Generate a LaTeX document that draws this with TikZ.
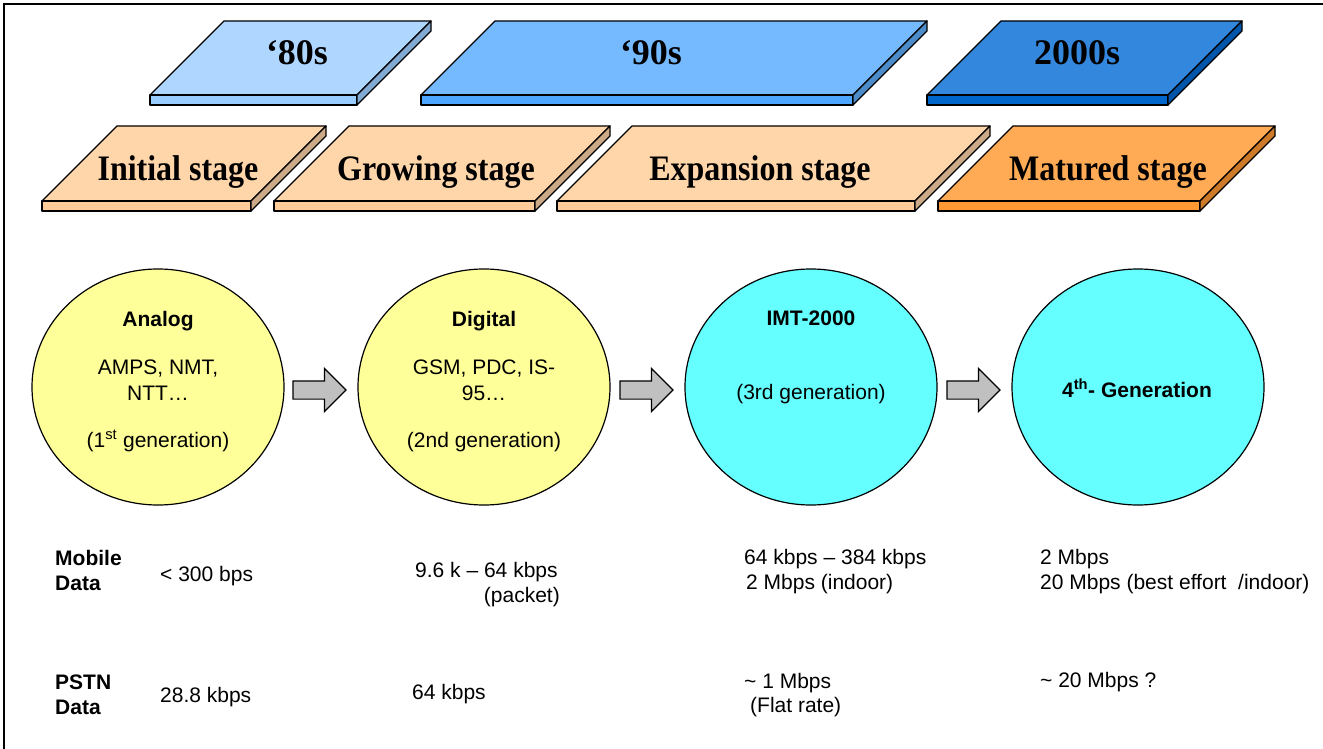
\documentclass[tikz,border=0pt]{standalone}
\usepackage{fontspec}
\usepackage{graphicx}
\setmainfont{Liberation Sans}
\newfontfamily\tnr{Liberation Serif}
\usetikzlibrary{shapes.geometric,shapes.arrows}

\definecolor{yAtop}{HTML}{AED6FF}
\definecolor{yAfront}{HTML}{99CCFF}
\definecolor{yAside}{HTML}{82AAD2}
\definecolor{yBtop}{HTML}{75BAFF}
\definecolor{yBfront}{HTML}{4DA6FF}
\definecolor{yBside}{HTML}{4C8CC8}
\definecolor{yCtop}{HTML}{3388DD}
\definecolor{yCfront}{HTML}{0066CC}
\definecolor{yCside}{HTML}{0055AA}
\definecolor{sAtop}{HTML}{FFD6AA}
\definecolor{sAfront}{HTML}{FFCC99}
\definecolor{sAside}{HTML}{CCAA88}
\definecolor{sBtop}{HTML}{FFAA55}
\definecolor{sBfront}{HTML}{FF9933}
\definecolor{sBside}{HTML}{CC7A29}
\definecolor{cyel}{HTML}{FFFF99}
\definecolor{ccyan}{HTML}{66FFFF}
\definecolor{agray}{HTML}{C0C0C0}

% #1 bottom-left x, #2 width, #3 top y, #4 bottom y, #5 thickness, #6 top, #7 front, #8 side
\newcommand{\mslab}[8]{%
  \pgfmathsetmacro{\msl}{#4-#3}%
  \pgfmathsetmacro{\mxr}{#1+#2}%
  \pgfmathsetmacro{\mxtl}{#1+\msl}%
  \pgfmathsetmacro{\mxtr}{#1+#2+\msl}%
  \pgfmathsetmacro{\myb}{#4+#5}%
  \pgfmathsetmacro{\myt}{#3+#5}%
  \filldraw[slabline,fill=#6] (#1,#4) -- (\mxr,#4) -- (\mxtr,#3) -- (\mxtl,#3) -- cycle;
  \filldraw[slabline,fill=#7] (#1,#4) rectangle (\mxr,\myb);
  \filldraw[slabline,fill=#8] (\mxr,#4) -- (\mxtr,#3) -- (\mxtr,\myt) -- (\mxr,\myb) -- cycle;
}
\newcommand{\stagelabel}[1]{\scalebox{1}[1.12]{#1}}

\tikzset{
  slabline/.style={draw=black,line width=1.3pt,line join=round},
  yeartxt/.style={anchor=base,inner sep=0pt,font={\tnr\bfseries\fontsize{36}{40}\selectfont}},
  stagetxt/.style={anchor=base,inner sep=0pt,font={\tnr\bfseries\fontsize{32}{36}\selectfont}},
  gencircle/.style={ellipse,draw=black,line width=1.2pt,minimum width=252pt,minimum height=236pt,inner sep=0pt},
  ctxt/.style={anchor=base,inner sep=0pt,font={\fontsize{21}{25}\selectfont}},
  cbold/.style={ctxt,font={\bfseries\fontsize{21}{25}\selectfont}},
  ltxt/.style={anchor=base west,inner sep=0pt,font={\fontsize{21}{25}\selectfont}},
  lbold/.style={ltxt,font={\bfseries\fontsize{21}{25}\selectfont}},
  blockarrow/.style={single arrow,draw=black,line width=1.2pt,fill=agray,
    minimum height=53pt,inner xsep=0pt,inner ysep=8.5pt,text height=0pt,text depth=0pt,
    single arrow head extend=12.5pt,single arrow head indent=0pt},
}

\begin{document}
\begin{tikzpicture}[x=1pt,y=-1pt]
\useasboundingbox (0,0) rectangle (1323,749);
\fill[white] (0,0) rectangle (1323,749);
\draw[line width=2pt] (4,749) -- (4,4) -- (1323,4);

% year slabs
\mslab{150}{207}{21}{95}{10}{yAtop}{yAfront}{yAside}
\mslab{421}{432}{21}{95}{10}{yBtop}{yBfront}{yBside}
\mslab{927}{241}{21}{95}{10}{yCtop}{yCfront}{yCside}
\node[yeartxt] (y80) at (297,65) {‘80s};
\node[yeartxt] (y90) at (651,65) {‘90s};
\node[yeartxt] (y00) at (1077,65) {2000s};

% stage slabs
\mslab{42}{209}{126}{201}{10}{sAtop}{sAfront}{sAside}
\mslab{274}{261}{126}{201}{10}{sAtop}{sAfront}{sAside}
\mslab{557}{358}{126}{201}{10}{sAtop}{sAfront}{sAside}
\mslab{938}{262}{126}{201}{10}{sBtop}{sBfront}{sBside}
\node[stagetxt] (s1) at (178,181) {\stagelabel{Initial stage}};
\node[stagetxt] (s2) at (436,181) {\stagelabel{Growing stage}};
\node[stagetxt] (s3) at (760,181) {\stagelabel{Expansion stage}};
\node[stagetxt] (s4) at (1108,181) {\stagelabel{Matured stage}};

% generation circles
\node[gencircle,fill=cyel] (g1) at (158,387) {};
\node[gencircle,fill=cyel] (g2) at (484,387) {};
\node[gencircle,fill=ccyan] (g3) at (811,387) {};
\node[gencircle,fill=ccyan] (g4) at (1138,387) {};

\node[cbold] (g1a) at (158,326) {Analog};
\node[ctxt] (g1b) at (158,374) {AMPS, NMT,};
\node[ctxt] (g1c) at (158,400) {NTT…};
\node[ctxt] (g1d) at (158,447) {(1\textsuperscript{st} generation)};

\node[cbold] (g2a) at (484,326) {Digital};
\node[ctxt] (g2b) at (484,374) {GSM, PDC, IS-};
\node[ctxt] (g2c) at (484,400) {95…};
\node[ctxt] (g2d) at (484,447) {(2nd generation)};

\node[cbold] (g3a) at (811,325) {IMT-2000};
\node[ctxt] (g3b) at (811,399) {(3rd generation)};

\node[cbold] (g4a) at (1137,397) {4\textsuperscript{th}- Generation};

% arrows
\node[blockarrow] (a1) at (315,390) {};
\node[blockarrow] (a2) at (642,390) {};
\node[blockarrow] (a3) at (969,390) {};

% data rows
\node[lbold] (m1) at (55,565) {Mobile};
\node[lbold] (m2) at (55,590) {Data};
\node[ltxt] (m3) at (160,581) {< 300 bps};
\node[ltxt] (m4) at (415,577) {9.6 k – 64 kbps};
\node[ltxt,anchor=base east] (m5) at (560,602) {(packet)};
\node[ltxt] (m6) at (744,564) {64 kbps – 384 kbps};
\node[ltxt] (m7) at (746,589) {2 Mbps (indoor)};
\node[ltxt] (m8) at (1040,564) {2 Mbps};
\node[ltxt] (m9) at (1040,589) {20 Mbps (best effort\ \ /indoor)};

\node[lbold] (p1) at (55,689) {PSTN};
\node[lbold] (p2) at (55,714) {Data};
\node[ltxt] (p3) at (160,702) {28.8 kbps};
\node[ltxt] (p4) at (412,699) {64 kbps};
\node[ltxt] (p5) at (744,688) {\char`\~{} 1 Mbps};
\node[ltxt] (p6) at (750,712) {(Flat rate)};
\node[ltxt] (p7) at (1040,687) {\char`\~{} 20 Mbps ?};
\end{tikzpicture}
\end{document}
